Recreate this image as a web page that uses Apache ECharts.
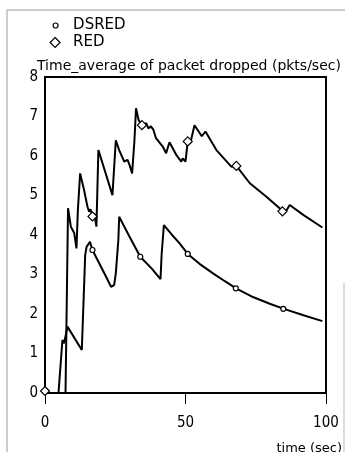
<!DOCTYPE html>
<html>
<head>
<meta charset="utf-8">
<script src="https://cdn.jsdelivr.net/npm/echarts@6/dist/echarts.min.js"></script>
<style>
html,body{margin:0;padding:0;background:#fff;}
#c{width:345px;height:452px;}
</style>
</head>
<body>
<div id="c"></div>
<script>
// ---- data ----
var seriesNames = ['DSRED', 'RED'];
var titleText = 'Time_average of packet dropped (pkts/sec)';
var xAxisName = 'time (sec)';
var xTicks = [0, 50, 100];
var yTicks = [0, 1, 2, 3, 4, 5, 6, 7, 8];

var tDS = [0, 4.8, 6.2, 6.8, 8.0, 13.1, 14.3, 14.8, 15.5, 16.0, 16.9, 18.1, 21.7, 23.5, 24.6, 25.2, 26.1, 26.4, 30.0, 33.9, 38.0, 41.1, 41.5, 42.3, 45.0, 47.9, 50.8, 55.0, 59.8, 64.0, 68.0, 74.0, 80.0, 85.0, 92.0, 98.7];
var vDS = [0, 0, 1.34, 1.26, 1.68, 1.09, 3.49, 3.70, 3.75, 3.83, 3.62, 3.45, 2.95, 2.69, 2.73, 3.03, 3.87, 4.46, 3.97, 3.45, 3.15, 2.88, 3.5, 4.25, 4.02, 3.79, 3.52, 3.27, 3.03, 2.83, 2.65, 2.43, 2.26, 2.13, 1.97, 1.82];

var tRED = [0, 7.3, 8.2, 9.2, 10.4, 11.2, 11.7, 12.5, 13.9, 15.1, 15.7, 16.2, 16.9, 17.5, 18.3, 19.0, 24.0, 24.6, 25.2, 26.4, 28.2, 29.4, 30.2, 31.0, 31.8, 32.4, 33.3, 34.5, 36.0, 36.8, 37.7, 38.6, 39.5, 41.9, 43.1, 44.3, 46.7, 48.5, 49.0, 50.0, 50.8, 51.7, 53.2, 55.8, 57.1, 61.0, 66.3, 68.1, 72.9, 78.8, 84.2, 85.3, 87.1, 91.9, 98.7];
var vRED = [0, 0, 4.68, 4.21, 4.05, 3.66, 4.63, 5.56, 5.14, 4.72, 4.59, 4.65, 4.47, 4.55, 4.21, 6.15, 5.01, 4.97, 6.4, 6.15, 5.86, 5.9, 5.75, 5.56, 6.36, 7.21, 6.91, 6.78, 6.83, 6.7, 6.75, 6.66, 6.45, 6.24, 6.07, 6.35, 6.03, 5.86, 5.94, 5.86, 6.37, 6.32, 6.78, 6.5, 6.62, 6.15, 5.73, 5.75, 5.31, 4.97, 4.63, 4.55, 4.76, 4.51, 4.19];

var dsMarkT = [0, 16.9, 33.9, 50.8, 67.9, 84.8];
var dsMarkV = [0.05, 3.62, 3.45, 3.52, 2.65, 2.13];
var redMarkT = [0, 16.9, 34.5, 50.8, 68.1, 84.5];
var redMarkV = [0.05, 4.47, 6.78, 6.37, 5.75, 4.6];

function zip(a, b) { return a.map(function (x, i) { return [x, b[i]]; }); }

var chart = echarts.init(document.getElementById('c'), null, {renderer: 'canvas'});
var tickFont = "'Liberation Sans Narrow', 'DejaVu Sans Condensed', 'Liberation Sans', sans-serif";
var txtFont = "'DejaVu Sans', sans-serif";
var markStyle = {color: '#fff', borderColor: '#000', borderWidth: 1.2, opacity: 1};

chart.setOption({
  animation: false,
  backgroundColor: '#fff',
  title: [
    {text: titleText, left: 37, top: 59, padding: 0,
     textStyle: {fontFamily: txtFont, fontSize: 14, fontWeight: 'normal', color: '#000'}},
    {text: xAxisName, right: 3, top: 442, padding: 0,
     textStyle: {fontFamily: txtFont, fontSize: 13, fontWeight: 'normal', color: '#000'}}
  ],
  legend: [
    {data: [{name: seriesNames[0], icon: 'circle'}], left: 52.5, top: 18, padding: 0,
     itemWidth: 5, itemHeight: 5, orient: 'vertical',
     itemStyle: markStyle,
     textStyle: {fontFamily: txtFont, fontSize: 15, color: '#000', padding: [0, 0, 0, 10]}},
    {data: [{name: seriesNames[1], icon: 'diamond'}], left: 49.5, top: 35, padding: 0,
     itemWidth: 10, itemHeight: 10, orient: 'vertical',
     itemStyle: markStyle,
     textStyle: {fontFamily: txtFont, fontSize: 15, color: '#000', padding: [0, 0, 0, 8]}}
  ],
  grid: {left: 45, right: 19, top: 77, bottom: 59, show: true,
         borderColor: '#000', borderWidth: 2, containLabel: false},
  xAxis: {
    type: 'value', min: xTicks[0], max: xTicks[xTicks.length - 1], interval: 50,
    splitLine: {show: false},
    axisLine: {lineStyle: {color: '#000', width: 2}},
    axisTick: {show: true, inside: false, length: 11, lineStyle: {color: '#000', width: 1}},
    axisLabel: {margin: 23, color: '#000', fontFamily: tickFont, fontSize: 15}
  },
  yAxis: {
    type: 'value', min: yTicks[0], max: yTicks[yTicks.length - 1], interval: 1,
    splitLine: {show: false},
    axisLine: {show: true, lineStyle: {color: '#000', width: 2}},
    axisTick: {show: false},
    axisLabel: {margin: 7, color: '#000', fontFamily: tickFont, fontSize: 15}
  },
  series: [
    {name: seriesNames[0], type: 'line', data: zip(tDS, vDS), showSymbol: false,
     lineStyle: {color: '#000', width: 2}, itemStyle: {color: '#000'}, z: 2},
    {name: seriesNames[1], type: 'line', data: zip(tRED, vRED), showSymbol: false,
     lineStyle: {color: '#000', width: 2}, itemStyle: {color: '#000'}, z: 2},
    {name: seriesNames[0], type: 'scatter', data: zip(dsMarkT, dsMarkV), symbol: 'circle', symbolSize: 5,
     itemStyle: markStyle, z: 3},
    {name: seriesNames[1], type: 'scatter', data: zip(redMarkT, redMarkV), symbol: 'diamond', symbolSize: 9,
     itemStyle: markStyle, z: 3}
  ],
  graphic: [
    {type: 'line', shape: {x1: 7, y1: 10, x2: 7, y2: 452}, style: {stroke: '#999', lineWidth: 1}, silent: true},
    {type: 'line', shape: {x1: 7, y1: 10, x2: 345, y2: 10}, style: {stroke: '#999', lineWidth: 1}, silent: true},
    {type: 'line', shape: {x1: 344, y1: 283, x2: 344, y2: 452}, style: {stroke: '#bbb', lineWidth: 1}, silent: true}
  ]
});
</script>
</body>
</html>
